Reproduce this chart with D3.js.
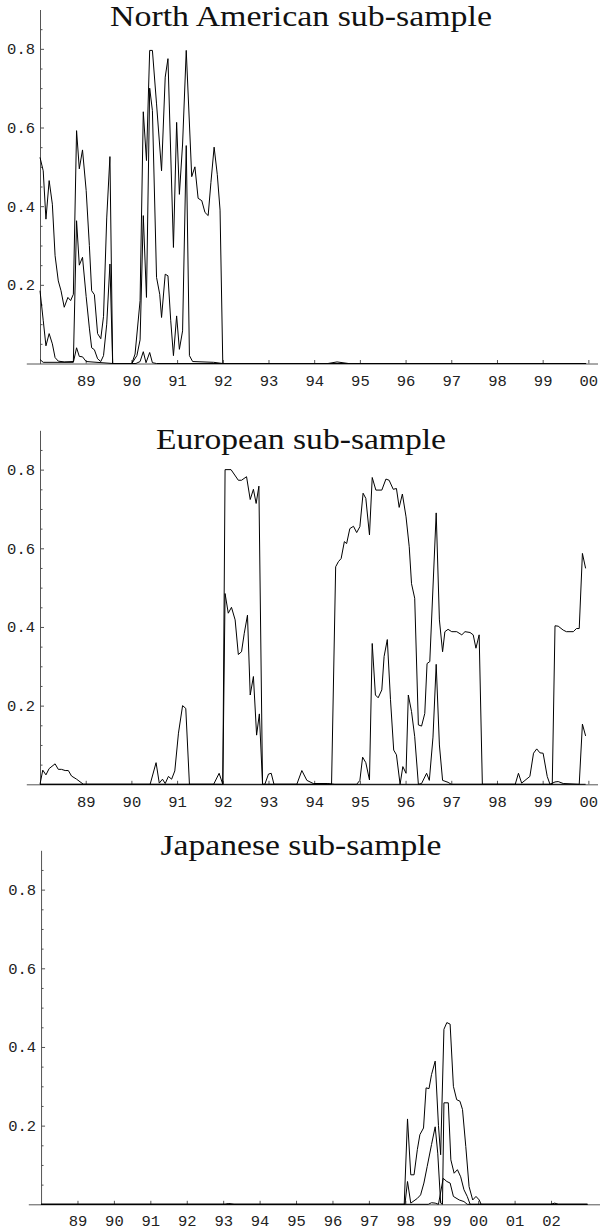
<!DOCTYPE html>
<html>
<head>
<meta charset="utf-8">
<script src="https://cdn.jsdelivr.net/npm/d3@7"></script>
<style>
  body { margin: 0; background: #fff; }
</style>
</head>
<body>
<svg id="chart"></svg>
<script>
// values, [year, value]
const naHigh = [[1988.00,0.524],[1988.07,0.49],[1988.13,0.367],[1988.20,0.465],[1988.27,0.405],[1988.33,0.274],[1988.40,0.21],[1988.46,0.185],[1988.53,0.143],[1988.61,0.168],[1988.67,0.16],[1988.73,0.176],[1988.80,0.592],[1988.86,0.495],[1988.93,0.543],[1989.01,0.44],[1989.08,0.30],[1989.13,0.185],[1989.19,0.175],[1989.26,0.076],[1989.33,0.063],[1989.39,0.12],[1989.46,0.37],[1989.53,0.526],[1989.59,0],
  [1990.01,0],[1990.08,0.024],[1990.19,0.16],[1990.26,0.64],[1990.33,0.516],[1990.40,0.796],[1990.46,0.796],[1990.55,0.66],[1990.66,0.49],[1990.74,0.728],[1990.80,0.775],[1990.92,0.295],[1990.99,0.613],[1991.05,0.43],[1991.12,0.558],[1991.20,0.796],[1991.32,0.475],[1991.39,0.5],[1991.46,0.42],[1991.54,0.414],[1991.61,0.384],[1991.68,0.376],[1991.74,0.46],[1991.81,0.55],[1991.88,0.48],[1991.94,0.39],[1992.00,0],[1999.95,0]];
const naMid = [[1988.00,0.185],[1988.07,0.11],[1988.13,0.045],[1988.20,0.076],[1988.27,0.05],[1988.33,0.015],[1988.40,0.006],[1988.53,0.004],[1988.73,0.005],[1988.80,0.363],[1988.86,0.25],[1988.93,0.27],[1989.01,0.17],[1989.08,0.09],[1989.13,0.04],[1989.19,0.035],[1989.26,0.012],[1989.33,0.005],[1989.39,0.02],[1989.46,0.1],[1989.53,0.253],[1989.59,0],
  [1990.01,0],[1990.12,0.02],[1990.19,0.06],[1990.26,0.376],[1990.33,0.168],[1990.40,0.70],[1990.46,0.643],[1990.55,0.219],[1990.62,0.176],[1990.66,0.117],[1990.74,0.227],[1990.80,0.223],[1990.86,0.11],[1990.92,0.02],[1990.99,0.121],[1991.05,0.036],[1991.12,0.083],[1991.20,0.554],[1991.27,0.02],[1991.34,0.005],[1991.80,0.003],[1992.00,0],[1999.95,0]];
const naLow = [[1988.00,0.01],[1988.07,0.003],[1988.73,0.003],[1988.80,0.04],[1988.86,0.018],[1988.93,0.017],[1989.01,0.005],[1989.59,0],[1990.10,0],[1990.19,0.005],[1990.26,0.03],[1990.32,0.002],[1990.40,0.028],[1990.46,0.002],[1990.55,0],[1994.30,0],[1994.50,0.004],[1994.75,0],[1999.95,0]];

const euHigh = [[1988.00,0],[1990.41,0],[1990.54,0.055],[1990.61,0.003],[1990.68,0.013],[1990.74,0.002],[1990.81,0.02],[1990.88,0.013],[1990.95,0.034],[1991.03,0.13],[1991.12,0.2],[1991.19,0.193],[1991.27,0],[1991.80,0],[1991.92,0.028],[1992.00,0],
  [1992.05,0.8],[1992.18,0.8],[1992.34,0.773],[1992.41,0.773],[1992.52,0.782],[1992.60,0.724],[1992.67,0.75],[1992.73,0.714],[1992.79,0.758],[1992.87,0],[1994.38,0],
  [1994.47,0.553],[1994.53,0.566],[1994.59,0.574],[1994.66,0.617],[1994.71,0.612],[1994.78,0.65],[1994.86,0.656],[1994.93,0.64],[1995.00,0.655],[1995.07,0.74],[1995.13,0.727],[1995.21,0.634],[1995.27,0.78],[1995.35,0.748],[1995.48,0.748],[1995.57,0.776],[1995.64,0.773],[1995.73,0.75],[1995.80,0.752],[1995.86,0.704],[1995.93,0.738],[1996.01,0.68],[1996.08,0.604],[1996.13,0.51],[1996.20,0.473],[1996.28,0.151],[1996.35,0.148],[1996.42,0.18],[1996.47,0.307],[1996.53,0.312],[1996.67,0.69],[1996.74,0.418],[1996.81,0.337],[1996.86,0.388],[1996.93,0.394],[1997.01,0.388],[1997.12,0.388],[1997.23,0.38],[1997.30,0.388],[1997.41,0.386],[1997.48,0.38],[1997.54,0.346],[1997.61,0.38],[1997.68,0],
  [1999.21,0],[1999.27,0.403],[1999.34,0.402],[1999.45,0.392],[1999.52,0.388],[1999.67,0.388],[1999.74,0.396],[1999.80,0.396],[1999.87,0.587],[1999.94,0.549]];
const euMid = [[1988.00,0],[1992.00,0],[1992.05,0.485],[1992.12,0.435],[1992.19,0.45],[1992.27,0.418],[1992.34,0.33],[1992.41,0.337],[1992.47,0.384],[1992.54,0.43],[1992.60,0.227],[1992.67,0.274],[1992.74,0.125],[1992.80,0.179],[1992.87,0],
  [1994.93,0],[1995.00,0.01],[1995.06,0.069],[1995.13,0.055],[1995.21,0.011],[1995.27,0.358],[1995.34,0.227],[1995.40,0.22],[1995.48,0.24],[1995.53,0.325],[1995.60,0.368],[1995.67,0.215],[1995.74,0.087],[1995.80,0.075],[1995.88,0],[1995.94,0.045],[1996.01,0.028],[1996.06,0.227],[1996.13,0.185],[1996.20,0.121],[1996.28,0],
  [1996.35,0.002],[1996.46,0.028],[1996.52,0.01],[1996.60,0.12],[1996.67,0.305],[1996.74,0.1],[1996.81,0.01],[1996.93,0.005],[1997.00,0],
  [1998.40,0],[1998.47,0.028],[1998.54,0.003],[1998.72,0.02],[1998.80,0.079],[1998.87,0.09],[1998.94,0.08],[1999.01,0.079],[1999.10,0.02],[1999.16,0],[1999.27,0.006],[1999.34,0.007],[1999.45,0.002],[1999.80,0],[1999.87,0.153],[1999.94,0.123]];
const euLow = [[1988.00,0],[1988.06,0.036],[1988.13,0.024],[1988.20,0.04],[1988.33,0.052],[1988.40,0.038],[1988.47,0.038],[1988.55,0.035],[1988.62,0.035],[1988.69,0.021],[1988.80,0.013],[1988.95,0],
  [1992.92,0],[1993.00,0.026],[1993.06,0.028],[1993.12,0],[1993.62,0],[1993.73,0.035],[1993.84,0.01],[1993.98,0.002],[1994.30,0.002],[1994.45,0],[1999.94,0]];

const jpHigh = [[1988.00,0],[1997.97,0],[1998.06,0.217],[1998.15,0.075],[1998.24,0.075],[1998.33,0.139],[1998.40,0.177],[1998.50,0.194],[1998.57,0.296],[1998.65,0.294],[1998.72,0.33],[1998.82,0.364],[1998.91,0.2],[1998.97,0.126],[1999.06,0.445],[1999.14,0.462],[1999.23,0.458],[1999.32,0.3],[1999.41,0.266],[1999.50,0.262],[1999.57,0.241],[1999.66,0.147],[1999.75,0.045],[1999.85,0.011],[1999.94,0.02],[2000.03,0.011],[2000.08,0],[2003.00,0]];
const jpMid = [[1988.00,0],[1997.99,0],[1998.06,0.058],[1998.15,0.003],[1998.33,0.015],[1998.42,0.024],[1998.51,0.054],[1998.60,0.096],[1998.72,0.152],[1998.82,0.197],[1998.89,0.13],[1998.97,0.003],[1999.02,0],[1999.06,0.258],[1999.18,0.258],[1999.25,0.113],[1999.34,0.079],[1999.43,0.088],[1999.52,0.07],[1999.61,0.037],[1999.70,0.02],[1999.78,0],[2003.00,0]];
const jpLow = [[1988.00,0],[1993.05,0],[1993.15,0.002],[1993.30,0],[1998.63,0],[1998.72,0.004],[1998.82,0.003],[1998.91,0],[1999.04,0.066],[1999.14,0.058],[1999.23,0.054],[1999.32,0.02],[1999.48,0.011],[1999.61,0.007],[1999.70,0],[2002.00,0],[2002.10,0.003],[2002.20,0],[2003.00,0]];

const titles = ["North American sub-sample", "European sub-sample", "Japanese sub-sample"];
const yearTicksShort = d3.range(1989, 2001);
const yearTicksLong = d3.range(1989, 2003);
const yMajorTicks = [0.2, 0.4, 0.6, 0.8];
const yMinorTicks = [0.05, 0.1, 0.15, 0.25, 0.3, 0.35, 0.45, 0.5, 0.55, 0.65, 0.7, 0.75, 0.85];

const width = 600, height = 1232;

// layout of each panel (pixel placement only)
const panels = [
  { title: titles[0], series: [naHigh, naMid, naLow], ticks: yearTicksShort,
    xDomain: [1987.7, 2000.2], xRange: [26.3, 597.5], zero: 363.5, titleY: 26, titleW: 382, labelPad: 11.5 },
  { title: titles[1], series: [euHigh, euMid, euLow], ticks: yearTicksShort,
    xDomain: [1987.7, 2000.2], xRange: [26.3, 597.5], zero: 784.3, titleY: 449, titleW: 290, labelPad: 11.5 },
  { title: titles[2], series: [jpHigh, jpMid, jpLow], ticks: yearTicksLong,
    xDomain: [1987.65, 2003.35], xRange: [28.3, 600.2], zero: 1204.3, titleY: 855, titleW: 281, labelPad: 11 }
];

const svg = d3.select("#chart").attr("width", width).attr("height", height);

const monoFont = "'Liberation Mono', 'Courier New', monospace";

panels.forEach(p => {
  const x = d3.scaleLinear().domain(p.xDomain).range(p.xRange);
  const y = d3.scaleLinear().domain([0, 0.9]).range([p.zero, p.zero - 354]);
  const g = svg.append("g");

  // x axis, ticks pointing up
  const xAxis = g.append("g")
    .attr("transform", `translate(0,${y(0)})`)
    .call(d3.axisBottom(x)
      .tickValues(p.ticks)
      .tickSize(-3.5)
      .tickSizeOuter(0)
      .tickPadding(p.labelPad)
      .tickFormat(d => String(d % 100).padStart(2, "0")));

  // y axis at 1988
  const yAxis = g.append("g")
    .attr("transform", `translate(${x(1988)},0)`)
    .call(d3.axisLeft(y)
      .tickValues(yMajorTicks)
      .tickSize(-4)
      .tickSizeOuter(0)
      .tickPadding(5)
      .tickFormat(d3.format(".1f")));

  g.append("g")
    .attr("transform", `translate(${x(1988)},0)`)
    .call(d3.axisLeft(y).tickValues(yMinorTicks).tickSize(-2.5).tickFormat(""))
    .call(a => a.select(".domain").remove());

  g.selectAll(".domain, .tick line").attr("stroke", "#555").attr("stroke-width", 1);
  [xAxis, yAxis].forEach(a => a.selectAll("text")
    .attr("font-family", monoFont)
    .attr("font-size", 15.5)
    .attr("fill", "#222"));

  // title
  g.append("text")
    .attr("x", 301)
    .attr("y", p.titleY)
    .attr("text-anchor", "middle")
    .attr("font-family", "'Liberation Serif', 'Times New Roman', serif")
    .attr("font-size", 29)
    .attr("textLength", p.titleW)
    .attr("lengthAdjust", "spacingAndGlyphs")
    .attr("fill", "#111")
    .text(p.title);

  const line = d3.line()
    .x(d => x(d[0]))
    .y(d => y(d[1]));

  g.selectAll("path.series")
    .data(p.series)
    .join("path")
    .attr("class", "series")
    .attr("d", line)
    .attr("fill", "none")
    .attr("stroke", "#000")
    .attr("stroke-width", 1);
});
</script>
</body>
</html>
